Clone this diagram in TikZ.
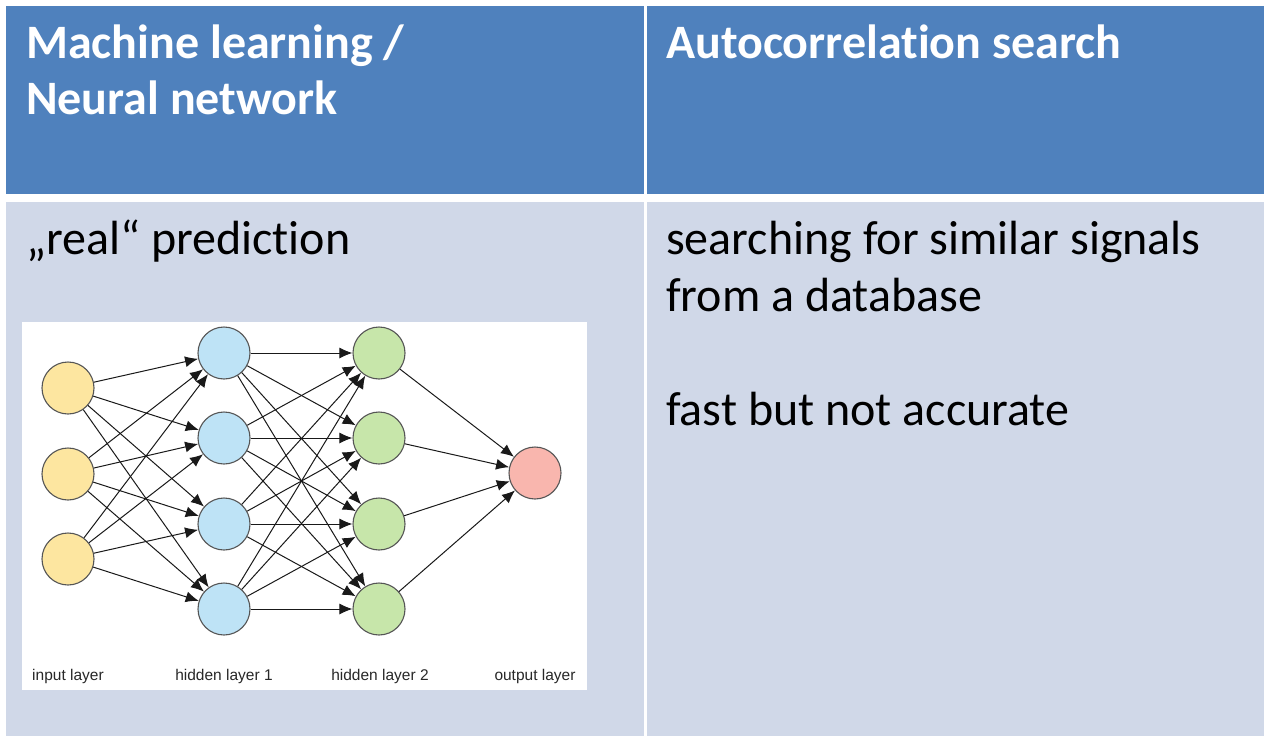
\documentclass[tikz,border=0pt]{standalone}
\usepackage{fontspec}
\setmainfont[RawFeature={-liga}]{Carlito}
\newfontfamily\labelfont{Liberation Sans}
\usetikzlibrary{arrows.meta}
\definecolor{hdrblue}{RGB}{79,129,189}
\definecolor{bodyblue}{RGB}{208,216,232}
\definecolor{nyellow}{RGB}{253,230,160}
\definecolor{nblue}{RGB}{190,227,246}
\definecolor{ngreen}{RGB}{199,230,170}
\definecolor{nred}{RGB}{249,182,174}
\definecolor{nborder}{RGB}{85,85,85}
\definecolor{edgecol}{RGB}{25,25,25}
\definecolor{labelcol}{RGB}{40,40,40}
\begin{document}
\begin{tikzpicture}[x=1pt,y=-1pt,
  hdrtext/.style={anchor=base west,inner sep=0pt,text=white,font=\fontsize{48}{56}\selectfont\bfseries},
  bodytext/.style={anchor=base west,inner sep=0pt,text=black,font=\fontsize{48}{56}\selectfont},
  neuron/.style={circle,draw=nborder,line width=1.1pt,minimum size=52pt,inner sep=0pt},
  layerlabel/.style={anchor=base,inner sep=0pt,text=labelcol,font=\labelfont\fontsize{15.5}{17}\selectfont},
  conn/.style={draw=edgecol,line width=1pt,-{Latex[length=13pt,width=11pt]}}
]
\useasboundingbox (0,0) rectangle (1264,736);
\fill[white] (0,0) rectangle (1264,736);
% table cells
\fill[hdrblue] (6,6) rectangle (644,194);
\fill[hdrblue] (647,6) rectangle (1264,194);
\fill[bodyblue] (6,202) rectangle (644,736);
\fill[bodyblue] (647,202) rectangle (1264,736);
% header texts
\node[hdrtext] (h1a) at (26,58) {Machine learning /};
\node[hdrtext] (h1b) at (26,114) {Neural network};
\node[hdrtext] (h2) at (666,58) {Autocorrelation search};
% body texts
\node[bodytext] (b1) at (26,254) {„real“ prediction};
\node[bodytext] (b2a) at (666,254) {searching for similar signals};
\node[bodytext] (b2b) at (666,311) {from a database};
\node[bodytext] (b2c) at (666,425) {fast but not accurate};
% neural network picture
\fill[white] (22,322) rectangle (587,690);
\foreach \i/\y in {1/388,2/474,3/559}
  \node[neuron,fill=nyellow] (i\i) at (68,\y) {};
\foreach \i/\y in {1/353,2/438,3/524,4/609}{
  \node[neuron,fill=nblue] (a\i) at (224,\y) {};
  \node[neuron,fill=ngreen] (b\i) at (379,\y) {};
}
\node[neuron,fill=nred] (o) at (535,473) {};
\foreach \s in {1,2,3}
  \foreach \t in {1,2,3,4}
    \draw[conn] (i\s) -- (a\t);
\foreach \s in {1,2,3,4}
  \foreach \t in {1,2,3,4}
    \draw[conn] (a\s) -- (b\t);
\foreach \s in {1,2,3,4}
  \draw[conn] (b\s) -- (o);
\node[layerlabel] (l1) at (68,680) {input layer};
\node[layerlabel] (l2) at (224,680) {hidden layer 1};
\node[layerlabel] (l3) at (380,680) {hidden layer 2};
\node[layerlabel] (l4) at (535,680) {output layer};
\end{tikzpicture}
\end{document}
